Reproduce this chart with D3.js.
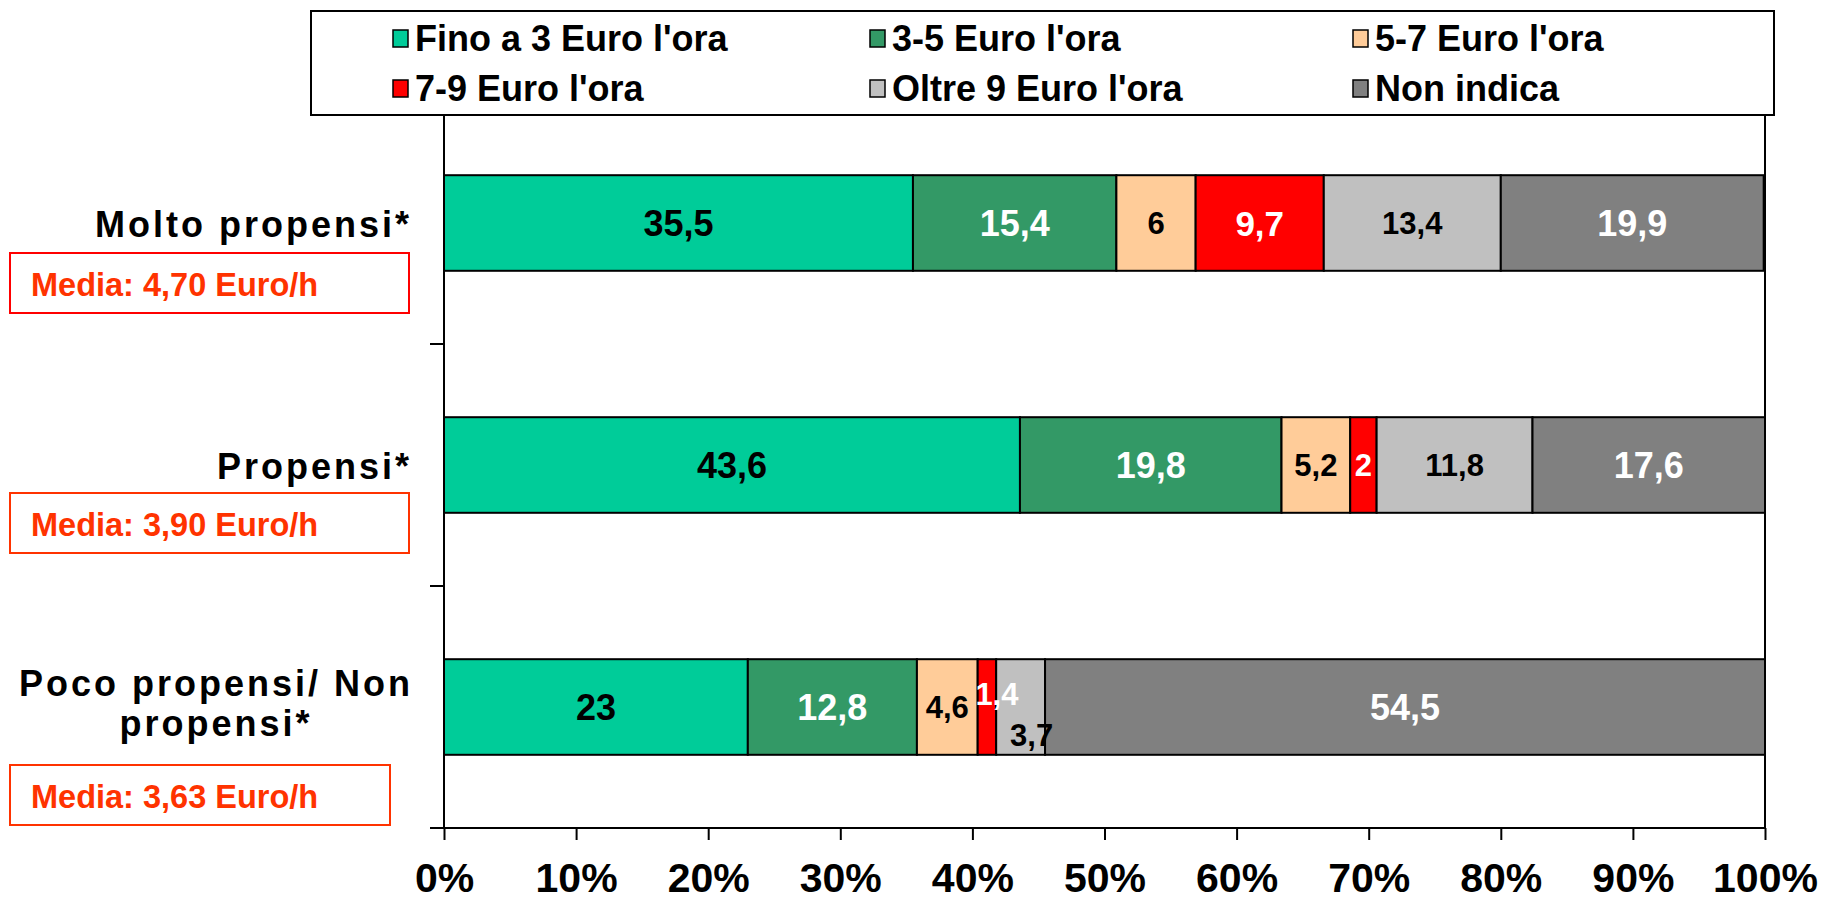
<!DOCTYPE html>
<html>
<head>
<meta charset="utf-8">
<script src="https://cdn.jsdelivr.net/npm/d3@7"></script>
<style>
  html, body { margin: 0; padding: 0; background: #fff; }
  svg { display: block; font-family: "Liberation Sans", Arial, sans-serif; font-weight: bold; }
</style>
</head>
<body>
<div id="chart"></div>
<script>
const categories = ["Molto propensi*", "Propensi*", "Poco propensi/ Non propensi*"];
const seriesNames = ["Fino a 3 Euro l'ora", "3-5 Euro l'ora", "5-7 Euro l'ora", "7-9 Euro l'ora", "Oltre 9 Euro l'ora", "Non indica"];
const fino3 = [35.5, 43.6, 23];
const da3a5 = [15.4, 19.8, 12.8];
const da5a7 = [6, 5.2, 4.6];
const da7a9 = [9.7, 2, 1.4];
const oltre9 = [13.4, 11.8, 3.7];
const nonIndica = [19.9, 17.6, 54.5];
const medie = ["Media: 4,70 Euro/h", "Media: 3,90 Euro/h", "Media: 3,63 Euro/h"];
const xTicks = [0, 10, 20, 30, 40, 50, 60, 70, 80, 90, 100];

const COLORS = ["#00CC99", "#339966", "#FFCC99", "#FF0000", "#C0C0C0", "#808080"];
const LABEL_COLORS = ["#000", "#fff", "#000", "#fff", "#000", "#fff"];
const LABEL_SIZES = [36, 36, 31, 31, 31, 36];
const SIZE_OVERRIDE = { "3-0": 35 };

const W = 1824, H = 902;
const svg = d3.select("#chart").append("svg").attr("width", W).attr("height", H);

const rows = categories.map((c, i) => ({
    cat: c,
    s0: fino3[i], s1: da3a5[i], s2: da5a7[i], s3: da7a9[i], s4: oltre9[i], s5: nonIndica[i]
}));
const keys = ["s0", "s1", "s2", "s3", "s4", "s5"];
const stacked = d3.stack().keys(keys)(rows);

const x = d3.scaleLinear().domain([0, 100]).range([444, 1765]);
const y = d3.scaleBand().domain(categories).range([102, 828]).paddingInner(0.605).paddingOuter(0.3025);

// plot frame (right border)
svg.append("line").attr("x1", x(100)).attr("x2", x(100)).attr("y1", 102).attr("y2", 828)
    .attr("stroke", "#000").attr("stroke-width", 2);

// bars
const layer = svg.append("g").selectAll("g").data(stacked).join("g")
    .attr("fill", (d, i) => COLORS[i]);
layer.selectAll("rect").data(d => d).join("rect")
    .attr("x", d => x(d[0]))
    .attr("y", d => y(d.data.cat))
    .attr("width", d => x(d[1]) - x(d[0]))
    .attr("height", y.bandwidth())
    .attr("stroke", "#000").attr("stroke-width", 2);

// value labels (two are moved like in the original to avoid overlaps)
const nudge = { "3-2": [10, -13], "4-2": [11, 28] };
stacked.forEach((s, si) => {
    svg.append("g").selectAll("text").data(s).join("text")
        .attr("x", (d, ci) => (x(d[0]) + x(d[1])) / 2 + ((nudge[si + "-" + ci] || [0, 0])[0]))
        .attr("y", (d, ci) => y(d.data.cat) + y.bandwidth() / 2 + ((nudge[si + "-" + ci] || [0, 0])[1]))
        .attr("dy", "0.36em")
        .attr("text-anchor", "middle")
        .attr("fill", LABEL_COLORS[si])
        .style("font-size", (d, ci) => (SIZE_OVERRIDE[si + "-" + ci] || LABEL_SIZES[si]) + "px")
        .text(d => String(+(d[1] - d[0]).toFixed(1)).replace(".", ","));
});

// y axis
svg.append("line").attr("x1", x(0)).attr("x2", x(0)).attr("y1", 102).attr("y2", 828)
    .attr("stroke", "#000").attr("stroke-width", 2);
const step = y.step();
d3.range(categories.length + 1).forEach(i => {
    const yy = 102 + i * step;
    svg.append("line").attr("x1", x(0) - 14).attr("x2", x(0)).attr("y1", yy).attr("y2", yy)
        .attr("stroke", "#000").attr("stroke-width", 2);
});

// x axis
const xAxis = svg.append("g").attr("transform", "translate(0,828)")
    .call(d3.axisBottom(x).tickValues(xTicks).tickSize(12).tickFormat(d => d + "%"));
xAxis.select(".domain").attr("stroke-width", 2).attr("d", `M${x(0)},0H${x(100)}`);
xAxis.selectAll(".tick line").attr("stroke-width", 2);
xAxis.selectAll(".tick text").attr("fill", "#000").attr("dy", 0).attr("y", 64)
    .style("font-size", "41px").style("font-family", "'Liberation Sans', Arial, sans-serif").style("font-weight", "bold");

// category labels
categories.forEach((c, i) => {
    const cy = y(c) + y.bandwidth() / 2;
    if (i < 2) {
        svg.append("text").attr("x", 412).attr("y", cy + 14).attr("text-anchor", "end")
            .style("font-size", "36px").style("letter-spacing", "3px").text(c);
    } else {
        const t = svg.append("text").attr("text-anchor", "middle").style("font-size", "36px").style("letter-spacing", "3px");
        t.append("tspan").attr("x", 216).attr("y", cy - 11).text("Poco propensi/ Non");
        t.append("tspan").attr("x", 216).attr("y", cy + 29).text("propensi*");
    }
});

// "Media" boxes
const boxTop = [30, 28, 58];
const boxW = [399, 399, 380];
const boxStroke = ["#FF0000", "#FF3300", "#FF3300"];
medie.forEach((m, i) => {
    const cy = y(categories[i]) + y.bandwidth() / 2;
    const g = svg.append("g").attr("transform", `translate(10,${cy + boxTop[i]})`);
    g.append("rect").attr("width", boxW[i]).attr("height", 60).attr("fill", "#fff")
        .attr("stroke", boxStroke[i]).attr("stroke-width", 2);
    g.append("text").attr("x", 21).attr("y", 43).attr("fill", "#FF3300")
        .style("font-size", "32.5px").text(m);
});

// legend
const lg = svg.append("g");
lg.append("rect").attr("x", 311).attr("y", 11).attr("width", 1463).attr("height", 104)
    .attr("fill", "#fff").attr("stroke", "#000").attr("stroke-width", 2);
const legCols = [393, 870, 1353];
const legRows = [51, 101];
seriesNames.forEach((n, i) => {
    const lx = legCols[i % 3], ly = legRows[Math.floor(i / 3)];
    lg.append("rect").attr("x", lx).attr("y", ly - 21).attr("width", 15).attr("height", 17)
        .attr("fill", COLORS[i]).attr("stroke", "#000").attr("stroke-width", 1.5);
    lg.append("text").attr("x", lx + 22).attr("y", ly).style("font-size", "36px").text(n);
});
</script>
</body>
</html>
